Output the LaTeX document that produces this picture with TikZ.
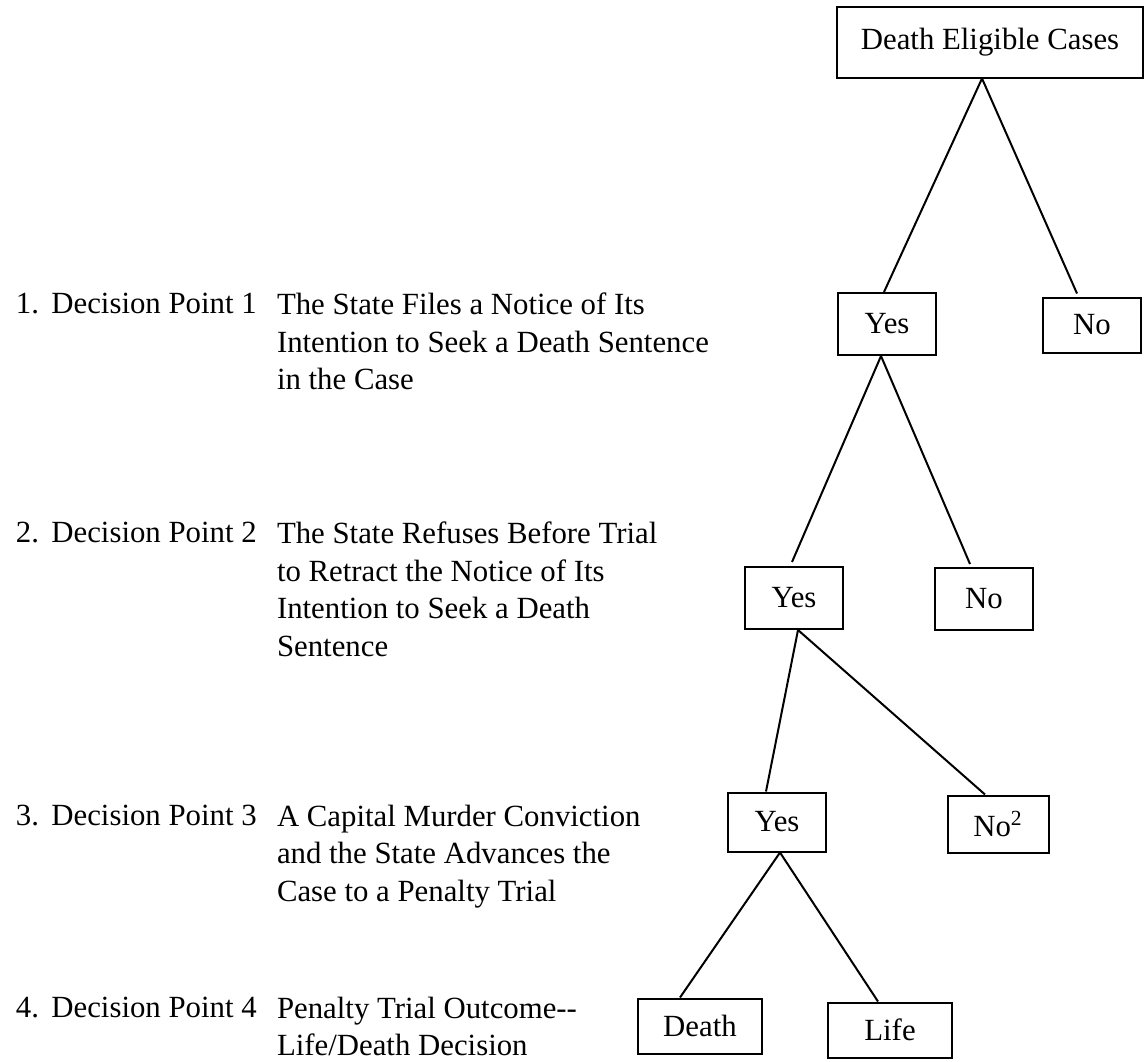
\documentclass[tikz,border=0pt]{standalone}
\usepackage{fontspec}
\setmainfont{Liberation Serif}
\usetikzlibrary{positioning,calc}

\tikzset{
  box/.style={draw,line width=1pt,minimum width=49pt,minimum height=31pt,inner sep=0pt,font=\fontsize{15.4}{18}\selectfont},
  endbox/.style={box,minimum width=62pt,minimum height=27.5pt},
  dptext/.style={anchor=north west,inner sep=0pt,align=left,font=\fontsize{15.4}{18.75}\selectfont}
}

\begin{document}
\begin{tikzpicture}[x=0.5pt,y=-0.5pt,line width=1pt]
\useasboundingbox (0,0) rectangle (1145,1061);

% the tree
\node[box,minimum width=153pt,minimum height=35.5pt] (root) at (990,42) {Death Eligible Cases};
\node[box] (yes1) at (887,324) {Yes};
\node[box,minimum height=27.5pt] (no1) at (1092,325) {No};
\node[box] (yes2) at (794,598) {Yes};
\node[box] (no2) at (984,599) {No};
\node[box,minimum height=29.5pt] (yes3) at (777,822) {Yes};
\node[box,minimum width=50.5pt,minimum height=28.5pt] (no3) at (998,824) {No\textsuperscript{2}};
\node[endbox] (death) at (700,1026) {Death};
\node[endbox] (life) at (890,1030) {Life};

\draw ($(root.south)+(-8,0)$) -- ($(yes1.north)+(-3,0)$);
\draw ($(root.south)+(-8,0)$) -- ($(no1.north)+(-15,-3)$);
\draw ($(yes1.south)+(-6,0)$) -- ($(yes2.north)+(-2,-4)$);
\draw ($(yes1.south)+(-6,0)$) -- ($(no2.north)+(-14,-3)$);
\draw ($(yes2.south)+(4,0)$) -- ($(yes3.north)+(-11,0)$);
\draw ($(yes2.south)+(4,0)$) -- ($(no3.north)+(-13,0)$);
\draw ($(yes3.south)+(3,0)$) -- ($(death.north)+(-20,0)$);
\draw ($(yes3.south)+(3,0)$) -- ($(life.north)+(-12,0)$);

% decision points
\node[dptext] (dp1) at (15,292) {1.\hspace{0.4em}Decision Point 1};
\node[dptext] (st1) at (276,292) {The State Files a Notice of Its\\Intention to Seek a Death Sentence\\in the Case};
\node[dptext] (dp2) at (15,521) {2.\hspace{0.4em}Decision Point 2};
\node[dptext] (st2) at (276,521) {The State Refuses Before Trial\\to Retract the Notice of Its\\Intention to Seek a Death\\Sentence};
\node[dptext] (dp3) at (15,804) {3.\hspace{0.4em}Decision Point 3};
\node[dptext] (st3) at (276,804) {A Capital Murder Conviction\\and the State Advances the\\Case to a Penalty Trial};
\node[dptext] (dp4) at (15,996) {4.\hspace{0.4em}Decision Point 4};
\node[dptext] (st4) at (276,996) {Penalty Trial Outcome-{}-\\Life/Death Decision};

\end{tikzpicture}
\end{document}
